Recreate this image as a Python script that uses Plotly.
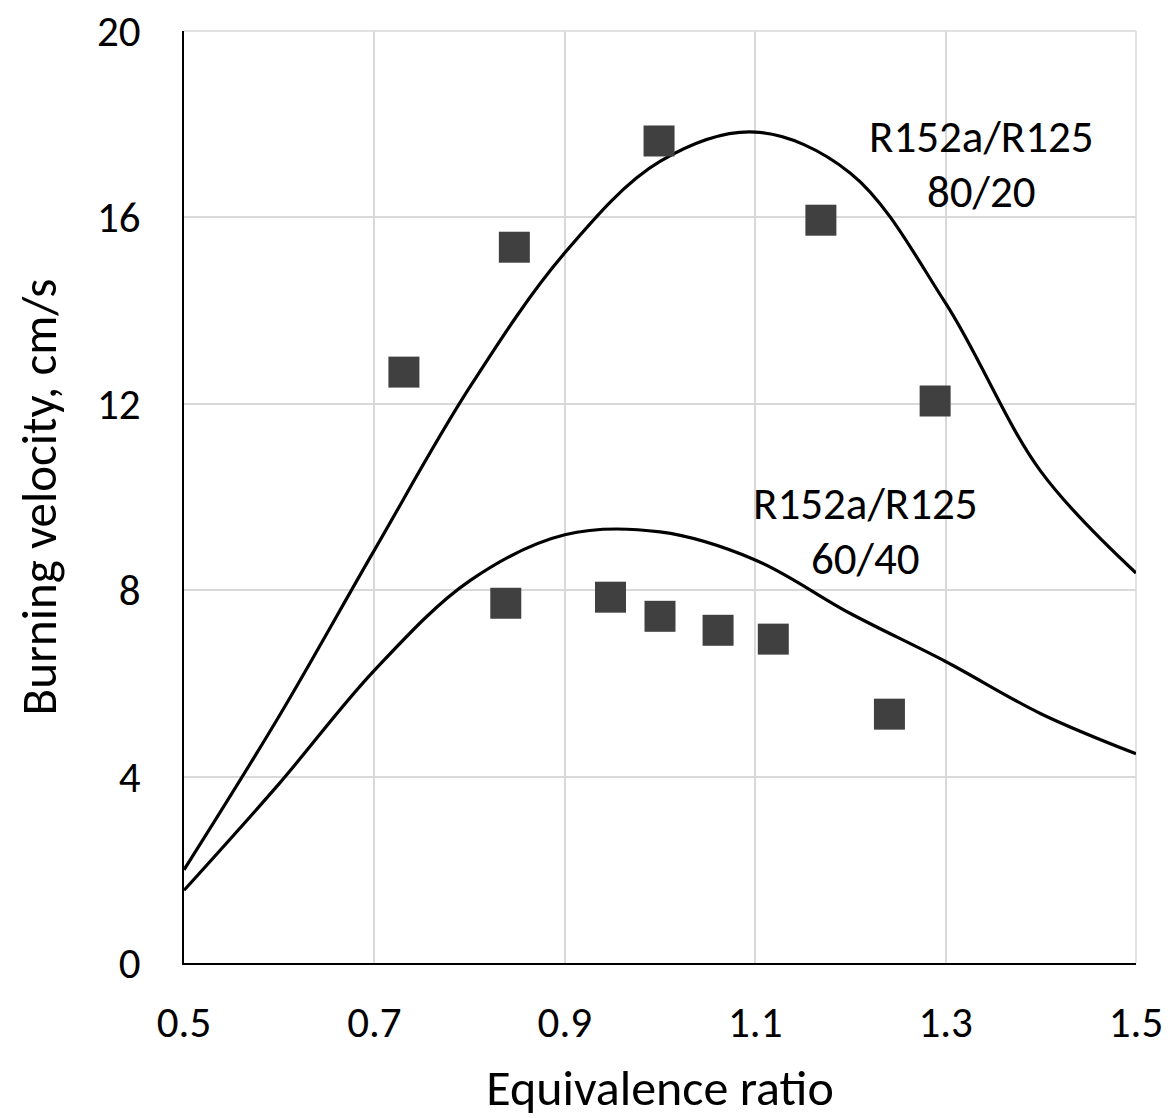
import plotly.graph_objects as go

# Experimental data (squares)
phi_exp_80_20 = [0.731, 0.847, 0.999, 1.169, 1.289]
su_exp_80_20 = [12.68, 15.36, 17.64, 15.94, 12.06]

phi_exp_60_40 = [0.838, 0.948, 1.000, 1.061, 1.119, 1.241]
su_exp_60_40 = [7.72, 7.85, 7.44, 7.14, 6.95, 5.34]

# Model curves
phi_model = [0.5, 0.6, 0.7, 0.8, 0.9, 1.0, 1.1, 1.2, 1.3, 1.4, 1.5]
su_model_80_20 = [2.0, 5.3, 8.86, 12.35, 15.24, 17.2, 17.83, 16.95, 14.16, 10.55, 8.37]
su_model_60_40 = [1.56, 3.85, 6.28, 8.2, 9.19, 9.25, 8.65, 7.5, 6.47, 5.35, 4.49]

x_ticks = [0.5, 0.7, 0.9, 1.1, 1.3, 1.5]
y_ticks = [0, 4, 8, 12, 16, 20]

# Curve labels: (x, y of line 1, y of line 2, line1, line2)
labels = [
    (1.338, 17.74, 16.55, "R152a/R125", "80/20"),
    (1.2156, 9.86, 8.67, "R152a/R125", "60/40"),
]

FONT = "Calibri, Carlito, Lato, sans-serif"

fig = go.Figure()

for ys in (su_model_80_20, su_model_60_40):
    fig.add_trace(go.Scatter(
        x=phi_model, y=ys, mode="lines",
        line=dict(color="black", width=3.2, shape="spline", smoothing=1.0),
        showlegend=False, hoverinfo="skip",
    ))

for xs, ys in ((phi_exp_80_20, su_exp_80_20), (phi_exp_60_40, su_exp_60_40)):
    fig.add_trace(go.Scatter(
        x=xs, y=ys, mode="markers",
        marker=dict(symbol="square", size=31, color="#404040", line=dict(width=0)),
        showlegend=False,
    ))

for lx, ly1, ly2, t1, t2 in labels:
    for ly, t in ((ly1, t1), (ly2, t2)):
        fig.add_annotation(x=lx, y=ly, text=t, showarrow=False, xanchor="center", yanchor="middle",
                           font=dict(family=FONT, size=45, color="black"))

fig.update_layout(
    width=1168, height=1118,
    margin=dict(l=184, r=32, t=31, b=155),
    paper_bgcolor="white", plot_bgcolor="white",
    font=dict(family=FONT, color="black"),
)

fig.update_xaxes(
    range=[0.5, 1.5], tickvals=x_ticks, ticktext=[f"{v:g}" for v in x_ticks],
    showgrid=True, gridcolor="#d9d9d9", gridwidth=1.5,
    showline=True, linecolor="black", linewidth=1.5,
    zeroline=False, ticks="", ticklabelstandoff=21, automargin=False,
    tickfont=dict(family=FONT, size=43, color="black"),
    title=dict(text="Equivalence ratio", font=dict(family=FONT, size=50, color="black"), standoff=22),
)
fig.update_yaxes(
    range=[0, 20], tickvals=y_ticks,
    showgrid=True, gridcolor="#d9d9d9", gridwidth=1.5,
    showline=True, linecolor="black", linewidth=1.5,
    zeroline=False, ticks="", ticklabelstandoff=33, automargin=False,
    tickfont=dict(family=FONT, size=43, color="black"),
    title=dict(text="Burning velocity, cm/s", font=dict(family=FONT, size=49, color="black"), standoff=25),
)

# top and right gridline borders
fig.add_shape(type="line", xref="paper", yref="paper", x0=0, x1=1, y0=1, y1=1,
              line=dict(color="#d9d9d9", width=1.5), layer="below")
fig.add_shape(type="line", xref="paper", yref="paper", x0=1, x1=1, y0=0, y1=1,
              line=dict(color="#d9d9d9", width=1.5), layer="below")

fig.write_html("out.html")
